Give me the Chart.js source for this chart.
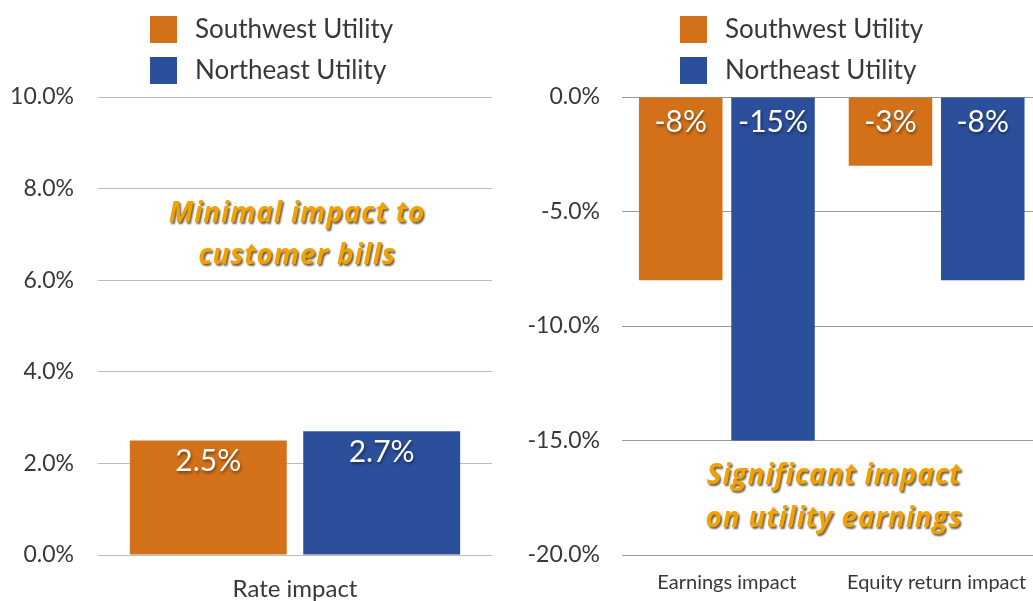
<!DOCTYPE html>
<html>
<head>
<meta charset="utf-8">
<script src="https://cdn.jsdelivr.net/npm/chart.js@4"></script>
<style>
  html, body { margin: 0; padding: 0; background: #fff; overflow: hidden; width: 1033px; height: 601px; }
  #wrapL { position: absolute; left: 0; top: 0; width: 520px; height: 601px; }
  #wrapR { position: absolute; left: 520px; top: 0; width: 540px; height: 601px; }
</style>
</head>
<body>
<div id="wrapL"><canvas id="left"></canvas></div>
<div id="wrapR"><canvas id="right"></canvas></div>
<script>
// ---- data ----
const seriesNames = ["Southwest Utility", "Northeast Utility"];
const seriesColors = ["#D3711A", "#2C4F9C"];
const leftCategories = ["Rate impact"];
const leftSouthwest = [2.5];
const leftNortheast = [2.7];
const rightCategories = ["Earnings impact", "Equity return impact"];
const rightSouthwest = [-8, -3];
const rightNortheast = [-15, -8];
const leftTickLabels = ["0.0%", "2.0%", "4.0%", "6.0%", "8.0%", "10.0%"];
const rightTickLabels = ["-20.0%", "-15.0%", "-10.0%", "-5.0%", "0.0%"];
const leftNote = ["Minimal impact to", "customer bills"];
const rightNote = ["Significant impact", "on utility earnings"];

const FONT = "Lato, 'Open Sans', sans-serif";
const NOTE_FONT = "italic bold 28px 'Open Sans', Lato, sans-serif";

function legendPlugin(x0) {
  return {
    id: 'vlegend',
    afterDraw(chart) {
      const ctx = chart.ctx;
      ctx.save();
      chart.data.datasets.forEach((ds, i) => {
        const y = 16 + i * 41;
        ctx.fillStyle = ds.backgroundColor;
        ctx.fillRect(x0, y, 27, 27);
        ctx.fillStyle = '#383838';
        ctx.font = "26px " + FONT;
        ctx.textAlign = 'left';
        ctx.textBaseline = 'middle';
        ctx.fillText(ds.label, x0 + 45, y + 14);
      });
      ctx.restore();
    }
  };
}

function labelPlugin(fmt, size, offset) {
  return {
    id: 'vlabels',
    afterDatasetsDraw(chart) {
      const ctx = chart.ctx;
      ctx.save();
      ctx.font = size + "px " + FONT;
      ctx.textAlign = 'center';
      ctx.textBaseline = 'middle';
      ctx.fillStyle = '#fff';
      ctx.shadowColor = 'rgba(0,0,0,0.45)';
      ctx.shadowOffsetX = 1;
      ctx.shadowOffsetY = 2;
      ctx.shadowBlur = 3;
      chart.data.datasets.forEach((ds, di) => {
        const meta = chart.getDatasetMeta(di);
        meta.data.forEach((bar, i) => {
          const v = ds.data[i];
          const y = v >= 0 ? bar.y + offset : bar.base + offset;
          ctx.fillText(fmt(v), bar.x, y);
        });
      });
      ctx.restore();
    }
  };
}

function notePlugin(lines, cxPx, value, lineGap) {
  return {
    id: 'note',
    afterDraw(chart) {
      const ctx = chart.ctx;
      const ys = chart.scales.y;
      const cy = ys.getPixelForValue(value);
      ctx.save();
      ctx.font = NOTE_FONT;
      if ('letterSpacing' in ctx) ctx.letterSpacing = '0.8px';
      ctx.textAlign = 'center';
      ctx.textBaseline = 'middle';
      ctx.fillStyle = '#F2A100';
      ctx.shadowColor = 'rgba(60,40,0,0.75)';
      ctx.shadowOffsetX = 1.5;
      ctx.shadowOffsetY = 2;
      ctx.shadowBlur = 2;
      lines.forEach((t, i) => ctx.fillText(t, cxPx, cy + i * lineGap));
      ctx.restore();
    }
  };
}

function makeDatasets(sw, ne) {
  return [
    { label: seriesNames[0], data: sw, backgroundColor: seriesColors[0], categoryPercentage: 0.88, barPercentage: 0.905 },
    { label: seriesNames[1], data: ne, backgroundColor: seriesColors[1], categoryPercentage: 0.88, barPercentage: 0.905 }
  ];
}

// ---- left chart ----
new Chart(document.getElementById('left'), {
  type: 'bar',
  data: { labels: leftCategories, datasets: makeDatasets(leftSouthwest, leftNortheast) },
  options: {
    responsive: true, maintainAspectRatio: false, animation: false,
    layout: { padding: { top: 97, right: 28, bottom: 0, left: 0 } },
    plugins: { legend: { display: false }, tooltip: { enabled: false } },
    scales: {
      x: {
        grid: { display: false, drawTicks: false },
        border: { display: false },
        ticks: { color: '#383838', font: { family: FONT, size: 24 }, padding: 20 },
        afterFit(s) { s.height = 46; }
      },
      y: {
        min: 0, max: 10,
        grid: { color: '#bdbdbd', lineWidth: 1, drawTicks: false },
        border: { display: false },
        ticks: {
          stepSize: 2, color: '#383838', font: { family: FONT, size: 23 }, padding: 24,
          callback: (v) => leftTickLabels[Math.round(v / 2)]
        },
        afterFit(s) { s.width = 98; }
      }
    }
  },
  plugins: [legendPlugin(150), labelPlugin(v => v.toFixed(1) + '%', 30, 21), notePlugin(leftNote, 297, 7.45, 42)]
});

// ---- right chart ----
new Chart(document.getElementById('right'), {
  type: 'bar',
  data: { labels: rightCategories, datasets: makeDatasets(rightSouthwest, rightNortheast) },
  options: {
    responsive: true, maintainAspectRatio: false, animation: false,
    layout: { padding: { top: 97, right: 18.5, bottom: 0, left: 0 } },
    plugins: { legend: { display: false }, tooltip: { enabled: false } },
    scales: {
      x: {
        grid: { display: false, drawTicks: false },
        border: { display: false },
        ticks: { color: '#383838', font: { family: FONT, size: 20 }, padding: 16, maxRotation: 0, autoSkip: false },
        afterFit(s) { s.height = 46; }
      },
      y: {
        min: -20, max: 0,
        grid: { color: '#9a9a9a', lineWidth: 1, drawTicks: false },
        border: { display: false },
        ticks: {
          stepSize: 5, color: '#383838', font: { family: FONT, size: 23 }, padding: 22,
          callback: (v) => rightTickLabels[Math.round((v + 20) / 5)]
        },
        afterFit(s) { s.width = 102; }
      }
    }
  },
  plugins: [legendPlugin(160), labelPlugin(v => v.toFixed(0) + '%', 30, 25), notePlugin(rightNote, 834 - 520, -16.55, 43)]
});
</script>
</body>
</html>
